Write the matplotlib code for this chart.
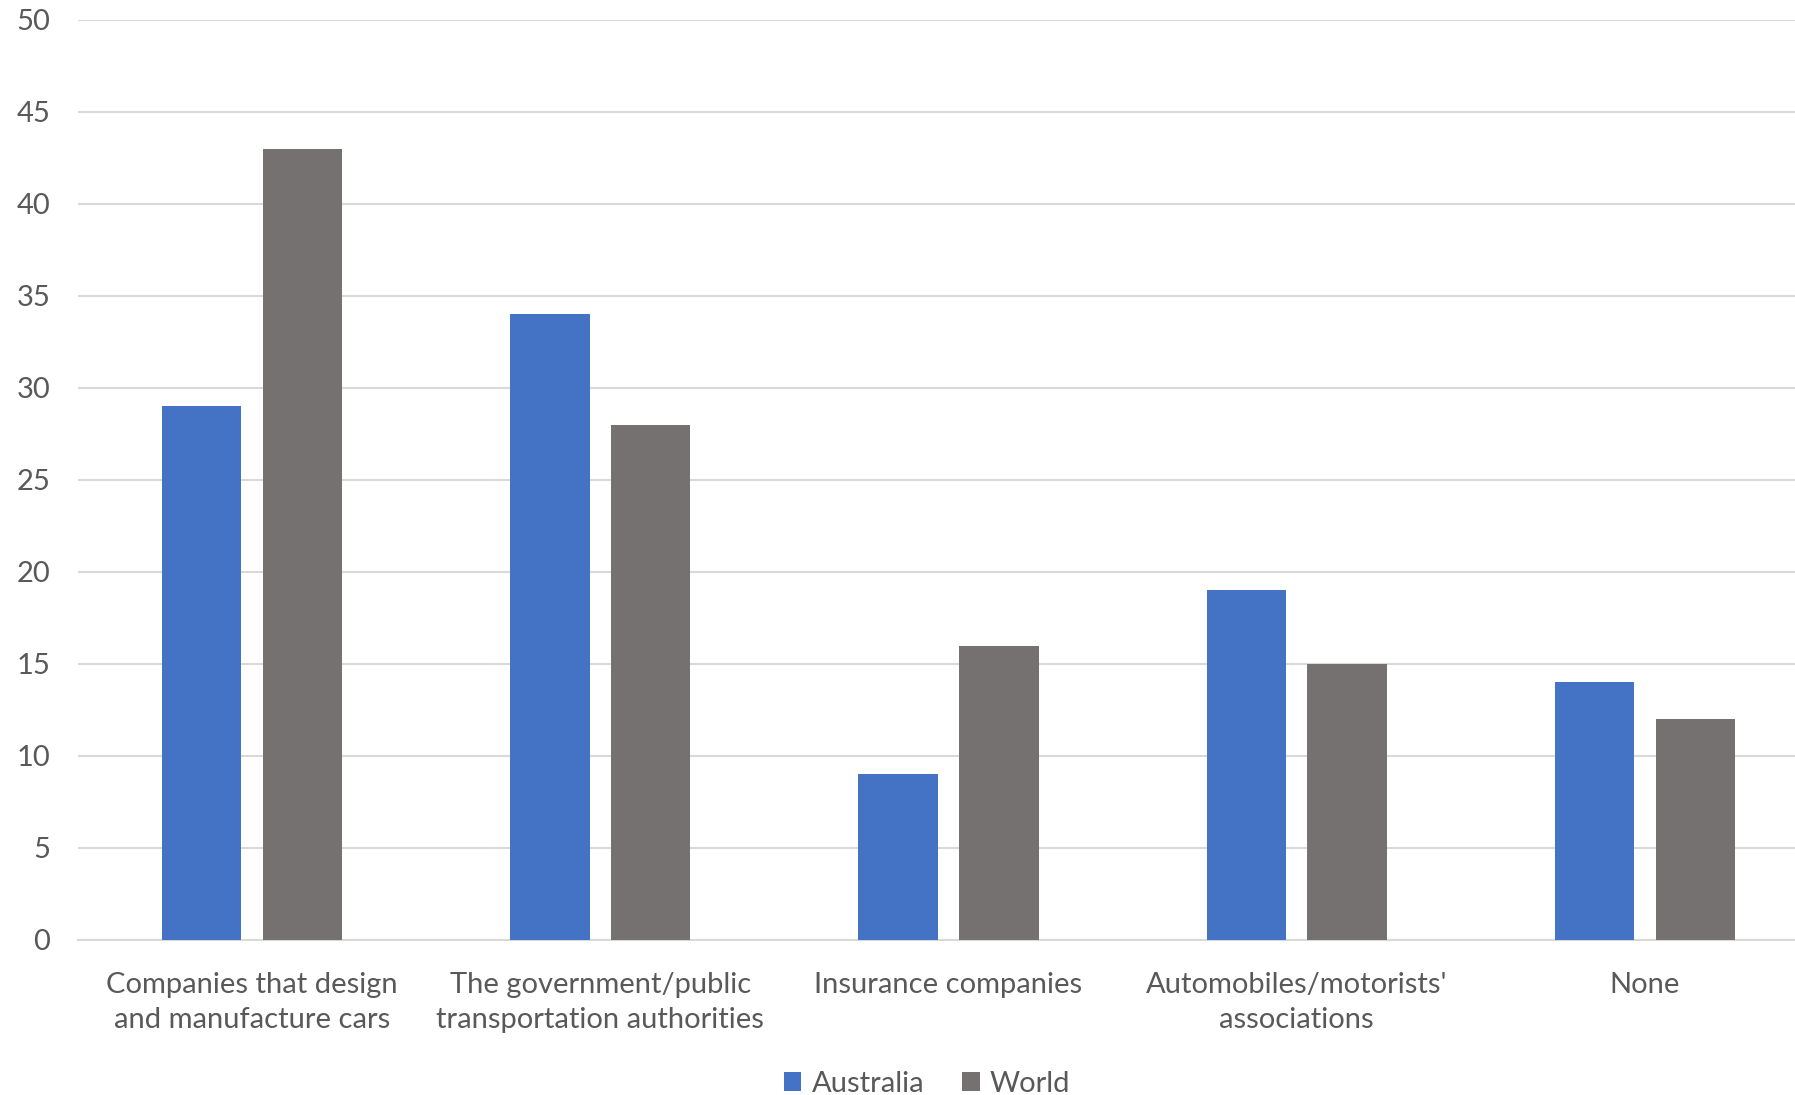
import numpy as np
import matplotlib
matplotlib.use('Agg')
import matplotlib.pyplot as plt

categories = [
    "Companies that design\nand manufacture cars",
    "The government/public\ntransportation authorities",
    "Insurance companies",
    "Automobiles/motorists'\nassociations",
    "None",
]
australia = [29, 34, 9, 19, 14]
world = [43, 28, 16, 15, 12]
yticks = [0, 5, 10, 15, 20, 25, 30, 35, 40, 45, 50]

BLUE = '#4472C4'
GRAY = '#767171'
TXT = '#595959'
GRID = '#D9D9D9'

plt.rcParams['font.family'] = ['Lato', 'DejaVu Sans']

W, H = 1795, 1095
fig = plt.figure(figsize=(W / 100, H / 100), dpi=100)
fig.patch.set_facecolor('white')

# plot area runs past the right edge, as in the source image
ax = fig.add_axes([78 / W, 155 / H, 1741 / W, 920 / H])

x = np.arange(len(categories))
bw = 0.228
off = 0.145
ax.bar(x - off, australia, bw, color=BLUE, label='Australia', zorder=3)
ax.bar(x + off, world, bw, color=GRAY, label='World', zorder=3)

ax.set_xlim(-0.5, len(categories) - 0.5)
ax.set_ylim(0, 50)
ax.set_yticks(yticks)
ax.set_xticks(x)
ax.set_xticklabels(categories, linespacing=1.42)
ax.tick_params(axis='y', length=0, pad=20, labelsize=21, labelcolor=TXT)
ax.tick_params(axis='x', length=0, pad=23, labelsize=21, labelcolor=TXT)
ax.grid(axis='y', color=GRID, linewidth=1.5, zorder=0)
for sp in ['top', 'right', 'left']:
    ax.spines[sp].set_visible(False)
ax.spines['bottom'].set_color(GRID)
ax.spines['bottom'].set_linewidth(1.5)
ax.spines['bottom'].set_zorder(1)

fig.legend(loc='center', bbox_to_anchor=(927 / W, 1 - 1084 / H),
           ncol=2, frameon=False, fontsize=21, labelcolor=TXT,
           handlelength=0.6, handleheight=0.6, handletextpad=0.35,
           columnspacing=1.3)

fig.savefig('out.png', dpi=100)
